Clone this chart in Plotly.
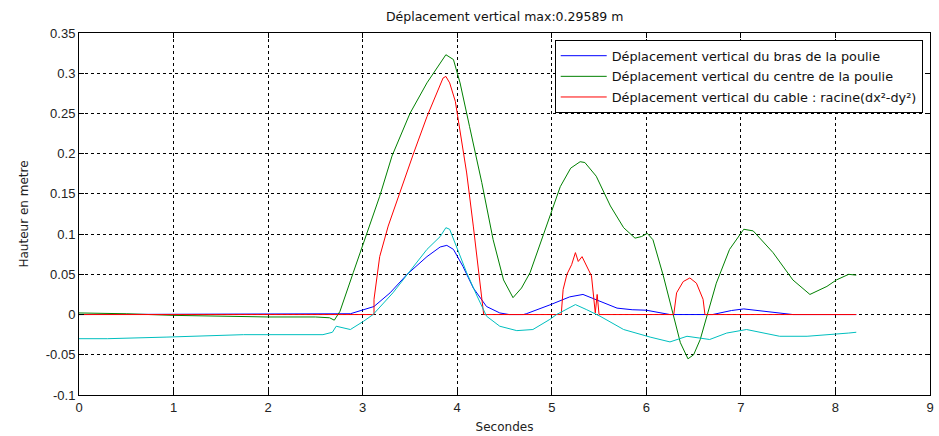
import plotly.graph_objects as go

# ---- data ----
bras_x = [0, 2.87, 3.12, 3.29, 3.47, 3.68, 3.82, 3.89, 3.96, 4.06, 4.17, 4.31, 4.45, 4.55, 4.70, 4.73,
          4.98, 5.19, 5.33, 5.47, 5.51, 5.69, 5.85, 6.00, 6.18, 6.25, 6.70, 6.74, 6.90, 7.03, 7.27,
          7.48, 7.55, 8.22]
bras_y = [0, 0.001, 0.010, 0.027, 0.050, 0.072, 0.084, 0.086, 0.081, 0.060, 0.033, 0.010, 0.002, 0.0, 0.0, 0.001,
          0.012, 0.022, 0.025, 0.019, 0.0165, 0.008, 0.006, 0.0054, 0.002, 0.0, 0.0, 0.001, 0.005, 0.007, 0.004,
          0.001, 0.0, 0.0]

centre_x = [0, 0.5, 1.0, 1.5, 2.0, 2.5, 2.65, 2.70, 2.76, 2.90, 3.02, 3.18, 3.31, 3.50, 3.68, 3.80, 3.88,
            3.96, 4.03, 4.13, 4.26, 4.38, 4.49, 4.59, 4.68, 4.77, 4.98, 5.09, 5.20, 5.30, 5.35, 5.47,
            5.62, 5.76, 5.88, 5.95, 6.01, 6.07, 6.18, 6.28, 6.36, 6.44, 6.50, 6.57, 6.74, 6.88, 7.03,
            7.13, 7.34, 7.55, 7.73, 7.91, 8.01, 8.14, 8.22]
centre_y = [0.002, 0.001, -0.001, -0.002, -0.003, -0.003, -0.004, -0.007, 0.004, 0.052, 0.093, 0.147, 0.197,
            0.250, 0.288, 0.310, 0.323, 0.317, 0.288, 0.234, 0.164, 0.093, 0.043, 0.021, 0.033, 0.052,
            0.122, 0.159, 0.182, 0.190, 0.189, 0.172, 0.135, 0.108, 0.095, 0.097, 0.101, 0.093, 0.048,
            0.000, -0.035, -0.055, -0.050, -0.031, 0.039, 0.081, 0.106, 0.104, 0.077, 0.043, 0.025,
            0.035, 0.043, 0.050, 0.049]

cable_x = [0, 3.12, 3.12, 3.18, 3.27, 3.39, 3.54, 3.68, 3.78, 3.85, 3.88, 3.92, 3.98, 4.03, 4.10, 4.17,
           4.24, 4.27, 4.28, 5.10, 5.12, 5.16, 5.21, 5.25, 5.28, 5.32, 5.37, 5.42, 5.46, 5.48, 5.50,
           6.29, 6.32, 6.39, 6.46, 6.53, 6.60, 6.62, 8.22]
cable_y = [0, 0, 0.019, 0.072, 0.110, 0.151, 0.201, 0.246, 0.275, 0.294, 0.296, 0.288, 0.265, 0.230, 0.176,
           0.110, 0.043, 0.010, 0, 0, 0.031, 0.050, 0.062, 0.077, 0.066, 0.072, 0.060, 0.048, 0.002,
           0.025, 0, 0, 0.027, 0.041, 0.0455, 0.039, 0.019, 0, 0]

autre_x = [0, 0.3, 0.93, 1.74, 2.58, 2.68, 2.72, 2.87, 3.01, 3.11, 3.32, 3.50, 3.68, 3.82, 3.88, 3.92,
           3.99, 4.10, 4.21, 4.31, 4.45, 4.63, 4.80, 4.98, 5.05, 5.25, 5.37, 5.51, 5.76, 6.04, 6.25,
           6.43, 6.67, 6.85, 7.06, 7.41, 7.70, 7.98, 8.14, 8.22]
autre_y = [-0.030, -0.030, -0.028, -0.025, -0.025, -0.022, -0.0145, -0.0186, -0.0083, 0.0, 0.027, 0.054,
           0.081, 0.097, 0.108, 0.106, 0.085, 0.052, 0.023, -0.002, -0.0145, -0.020, -0.0186, -0.006,
           0.0, 0.0124, 0.006, -0.002, -0.0186, -0.028, -0.034, -0.027, -0.031, -0.023, -0.0186,
           -0.027, -0.027, -0.025, -0.023, -0.022]

names = ["Déplacement vertical du bras de la poulie",
         "Déplacement vertical du centre de la poulie",
         "Déplacement vertical du cable : racine(dx²-dy²)"]

x_ticks = [0, 1, 2, 3, 4, 5, 6, 7, 8, 9]
y_ticks = [-0.1, -0.05, 0, 0.05, 0.1, 0.15, 0.2, 0.25, 0.3, 0.35]
y_tick_labels = ["-0.1", "-0.05", "0", "0.05", "0.1", "0.15", "0.2", "0.25", "0.3", "0.35"]

title_text = "Déplacement vertical max:0.29589 m"
x_label = "Secondes"
y_label = "Hauteur en metre"

FONT = "DejaVu Sans, sans-serif"
TICKFONT = "Liberation Sans, Arial, sans-serif"

fig = go.Figure()
fig.add_trace(go.Scatter(x=bras_x, y=bras_y, mode="lines", name=names[0], legendgroup="a",
                         line=dict(color="#0000FF", width=1)))
fig.add_trace(go.Scatter(x=centre_x, y=centre_y, mode="lines", name=names[1], legendgroup="b",
                         line=dict(color="#008000", width=1)))
fig.add_trace(go.Scatter(x=cable_x, y=cable_y, mode="lines", name=names[2], legendgroup="c",
                         line=dict(color="#FF0000", width=1)))
fig.add_trace(go.Scatter(x=autre_x, y=autre_y, mode="lines", showlegend=False,
                         line=dict(color="#00BFBF", width=1)))

axis_common = dict(showline=True, linecolor="black", linewidth=1, mirror="all",
                   ticks="inside", ticklen=5, tickcolor="black",
                   showgrid=True, gridcolor="black", gridwidth=1, griddash="3px,3px",
                   zeroline=False, automargin=False,
                   tickfont=dict(family=TICKFONT, size=13, color="#222"))

fig.update_xaxes(range=[0, 9], tickvals=x_ticks, **axis_common,
                 title=dict(text=x_label, font=dict(family=FONT, size=12, color="#222"), standoff=9))
fig.update_yaxes(range=[-0.1, 0.35], tickvals=y_ticks, ticktext=y_tick_labels, **axis_common,
                 title=dict(text=y_label, font=dict(family=FONT, size=12, color="#222"), standoff=14))

fig.update_layout(
    width=939, height=436,
    margin=dict(l=79, r=9, t=33, b=41),
    paper_bgcolor="white", plot_bgcolor="white",
    title=dict(text=title_text, x=0.5375, xanchor="center", y=0.963, yanchor="middle",
               font=dict(family=FONT, size=12.5, color="#111")),
    legend=dict(x=0.559, y=0.981, xanchor="left", yanchor="top",
                bordercolor="black", borderwidth=1, bgcolor="white", itemwidth=46,
                font=dict(family=FONT, size=12.8, color="#111"), tracegroupgap=1),
    showlegend=True,
)

fig.write_html("out.html")
